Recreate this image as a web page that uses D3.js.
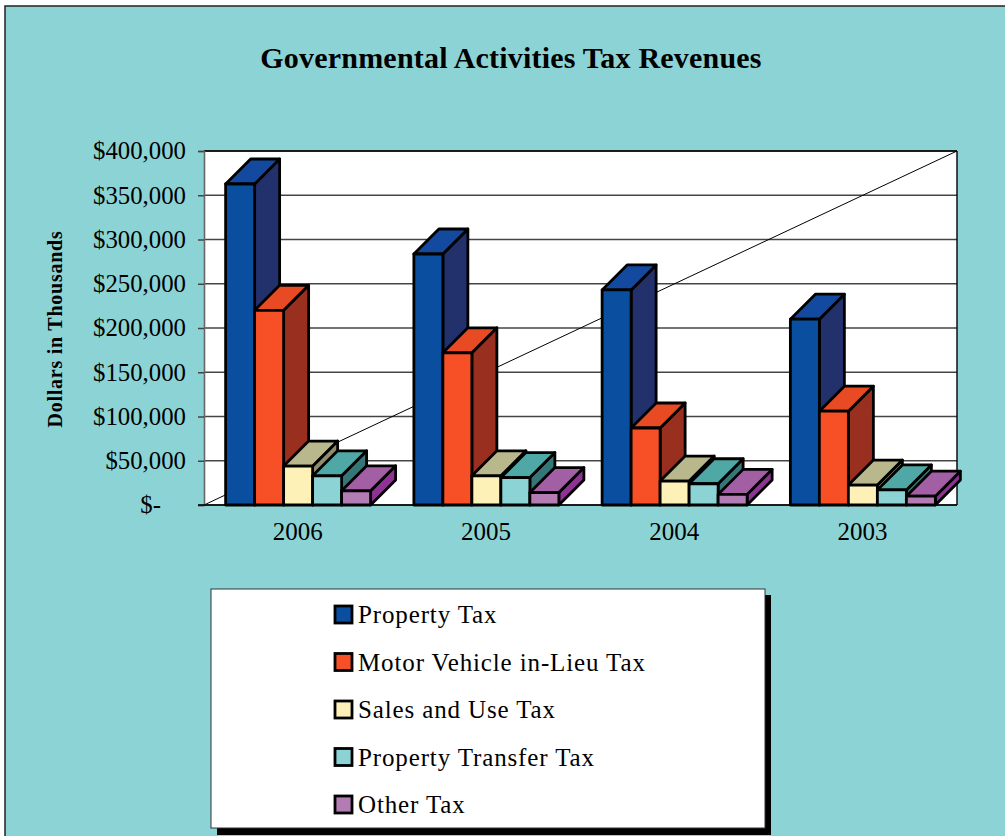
<!DOCTYPE html>
<html><head><meta charset="utf-8">
<script src="https://cdnjs.cloudflare.com/ajax/libs/d3/7.8.5/d3.min.js"></script>
<style>
html,body{margin:0;padding:0;background:#fff;overflow:hidden}
svg{display:block}
text{font-family:"Liberation Serif",serif;fill:#000}
</style></head><body><div id="c"></div>
<script>
const years = ["2006","2005","2004","2003"];
const seriesNames = ["Property Tax","Motor Vehicle in-Lieu Tax","Sales and Use Tax","Property Transfer Tax","Other Tax"];
const propertyTax = [362700,283600,243000,210000];
const motorVehicle = [220000,172000,87000,106000];
const salesUse = [44000,33000,27000,22500];
const propertyTransfer = [33000,31000,24000,17000];
const otherTax = [16000,14000,12000,10000];
const seriesValues = [propertyTax,motorVehicle,salesUse,propertyTransfer,otherTax];
const yTicks = [0,50000,100000,150000,200000,250000,300000,350000,400000];
const frontColors = ["#0A4EA0","#F75026","#FDF1B8","#8CD3D5","#B47CB5"];
const topColors = ["#1449A0","#E84A24","#B9B88D","#4FA8A6","#A25FA4"];
const sideColors = ["#22306B","#992F1E","#8E8E6E","#357778","#8F3296"];

const W=1005,H=836,bg="#8CD3D5",depth=25;
const svg=d3.select("#c").append("svg").attr("width",W).attr("height",H);
svg.append("rect").attr("x",5).attr("y",6).attr("width",W).attr("height",H).attr("fill",bg).attr("stroke","#222").attr("stroke-width",1.5);

svg.append("text").attr("x",511).attr("y",68).attr("text-anchor","middle")
  .attr("font-size",30).attr("letter-spacing",0.2).attr("font-weight","bold").text("Governmental Activities Tax Revenues");

const x0=d3.scaleBand().domain(years).range([204,957]);
const y=d3.scaleLinear().domain([0,400000]).range([505,151]);
const xs=d3.scaleBand().domain(d3.range(seriesNames.length)).range([0,145]);
const off=(x0.bandwidth()-145)/2;

const plot=svg.append("g");
plot.append("rect").attr("x",204).attr("y",151).attr("width",753).attr("height",354).attr("fill","#fff");
plot.selectAll("line.g").data(yTicks).join("line").attr("class","g")
  .attr("x1",204).attr("x2",957).attr("y1",d=>y(d)).attr("y2",d=>y(d))
  .attr("stroke","#444").attr("stroke-width",1.5);
plot.append("line").attr("x1",204).attr("y1",505).attr("x2",957).attr("y2",151).attr("stroke","#000").attr("stroke-width",1);
plot.append("line").attr("x1",204).attr("y1",151).attr("x2",957).attr("y2",151).attr("stroke","#000").attr("stroke-width",1.4);
plot.append("line").attr("x1",957).attr("y1",151).attr("x2",957).attr("y2",505).attr("stroke","#000").attr("stroke-width",1.4);

const yAxis=d3.axisLeft(y).tickValues(yTicks).tickSize(6).tickPadding(12)
  .tickFormat(d=>d===0?"$-":"$"+d3.format(",")(d));
const ga=svg.append("g").attr("transform","translate(204,0)").call(yAxis);
ga.select(".domain").attr("stroke","#666").attr("stroke-width",1.6);
ga.selectAll(".tick line").attr("stroke","#444").attr("stroke-width",1.5);
ga.selectAll("text").attr("font-size",24.8).attr("font-family","Liberation Serif").attr("fill","#000");
ga.selectAll(".tick").filter(d=>d===0).select("text").attr("dx",-25);

svg.append("text").attr("transform","translate(62,329) rotate(-90)").attr("text-anchor","middle")
  .attr("font-size",20).attr("letter-spacing",0.75).attr("font-weight","bold").text("Dollars in Thousands");

const bars=svg.append("g").attr("stroke","#000").attr("stroke-width",2.8).attr("stroke-linejoin","round");
years.forEach((yr,i)=>{
  seriesValues.forEach((vals,s)=>{
    const l=x0(yr)+off+xs(s), r=l+xs.bandwidth(), t=y(vals[i]), b=y(0);
    const g=bars.append("g");
    g.append("polygon").attr("points",[[r,t],[r+depth,t-depth],[r+depth,b-depth],[r,b]].join(" ")).attr("fill",sideColors[s]);
    g.append("polygon").attr("points",[[l,t],[l+depth,t-depth],[r+depth,t-depth],[r,t]].join(" ")).attr("fill",topColors[s]);
    g.append("rect").attr("x",l).attr("y",t).attr("width",r-l).attr("height",b-t).attr("fill",frontColors[s]);
  });
});
svg.append("line").attr("x1",198).attr("x2",957).attr("y1",505).attr("y2",505).attr("stroke","#000").attr("stroke-width",1.4);

svg.append("g").selectAll("text").data(years).join("text")
  .attr("x",d=>x0(d)+x0.bandwidth()/2-0.5).attr("y",540).attr("text-anchor","middle").attr("font-size",25).text(d=>d);

// legend
svg.append("rect").attr("x",217).attr("y",595).attr("width",554).attr("height",240).attr("fill","#000");
svg.append("rect").attr("x",211).attr("y",589).attr("width",554).attr("height",239).attr("fill","#fff").attr("stroke","#333").attr("stroke-width",1);
const ly=d3.scalePoint().domain(seriesNames).range([615,805]);
const lg=svg.append("g").selectAll("g").data(seriesNames).join("g").attr("transform",d=>`translate(0,${ly(d)})`);
lg.append("rect").attr("x",335).attr("y",-9).attr("width",17).attr("height",17).attr("stroke","#000").attr("stroke-width",2.8)
  .attr("fill",(d,i)=>frontColors[i]);
lg.append("text").attr("x",358).attr("y",8).attr("font-size",25).attr("letter-spacing",0.87).text(d=>d);
</script></body></html>
